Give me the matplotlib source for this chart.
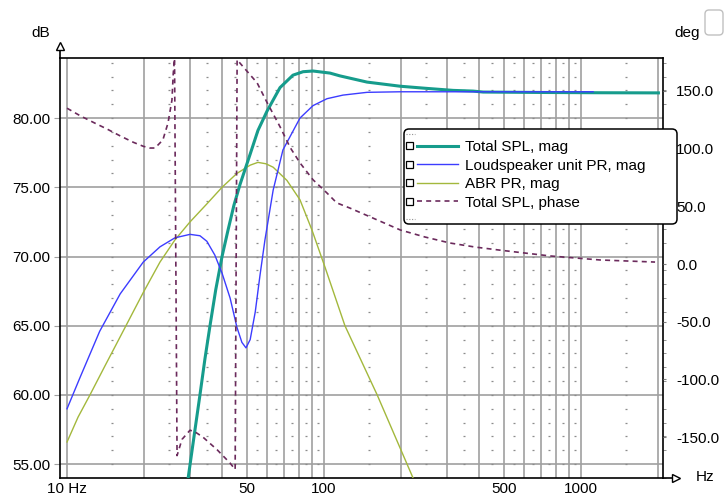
import numpy as np
import matplotlib
matplotlib.use('Agg')
import matplotlib.pyplot as plt
from matplotlib.lines import Line2D
from matplotlib.patches import Rectangle, FancyBboxPatch
from matplotlib.legend_handler import HandlerBase
from matplotlib.ticker import FixedLocator, MultipleLocator, FuncFormatter

plt.rcParams['font.family'] = ['Liberation Sans', 'DejaVu Sans']

# --- data ---
total_f = [28.5, 29.6, 31.2, 32.9, 34.4, 36.0, 37.9, 40.1, 42.3, 44.6, 47.1, 51.6, 55.3,
           60.0, 67.4, 75.7, 82.9, 90.6, 105.5, 115.2, 147, 198, 249, 318, 380, 416,
           700, 1200, 2000]
total_db = [53.0, 54.0, 57.0, 60.0, 62.6, 65.0, 67.6, 70.0, 71.9, 73.7, 75.2, 77.4, 79.1,
            80.5, 82.2, 83.1, 83.35, 83.4, 83.25, 83.05, 82.6, 82.3, 82.15, 82.0, 81.95,
            81.88, 81.85, 81.83, 81.82]

unit_f = [10, 11.2, 13.4, 16.1, 19.8, 23.0, 26.3, 30.1, 32.9, 35.0, 37.6, 40.1, 43.1, 45.8,
          47.9, 49.7, 51.6, 54.0, 56.3, 58.9, 63.4, 69.2, 80.6, 90.6, 102.7, 118.5, 147,
          198, 1114]
unit_db = [59.0, 61.2, 64.6, 67.3, 69.6, 70.7, 71.35, 71.6, 71.5, 71.1, 70.1, 68.8, 67.0,
           64.9, 63.8, 63.4, 64.0, 66.0, 68.6, 71.2, 74.8, 77.7, 80.0, 80.9, 81.4, 81.66,
           81.86, 81.9, 81.9]

abr_f = [10, 11.04, 12.28, 14.05, 16.1, 19.8, 23.0, 26.3, 30.1, 35.0, 40.1, 45.8, 51.6,
         55.3, 59.4, 63.4, 71.7, 80.6, 89.8, 101, 120.6, 161, 222, 247]
abr_db = [56.6, 58.4, 60.0, 62.1, 64.2, 67.4, 69.6, 71.2, 72.5, 73.8, 75.0, 76.0, 76.6,
          76.8, 76.7, 76.45, 75.5, 74.1, 71.9, 69.2, 65.0, 60.0, 54.0, 52.0]

phase_f = [10, 11.24, 12.85, 14.3, 16.1, 18.1, 19.8, 21.0, 22.0, 23.6, 24.7, 25.6, 25.9,
           26.2, 26.8, 28.0, 30.1, 31.5, 33.8, 38.4, 43.1, 45.1, 45.9, 46.3, 48.4, 54.9,
           60, 67.4, 73.8, 80.7, 90.6, 102.7, 112, 126, 158, 198, 247, 309, 387, 484,
           757, 1186, 1941]
phase_deg = [135, 128.5, 122, 117, 111, 105.5, 102, 100.5, 100.5, 107.5, 122, 142, 165,
             178, -166, -152, -144, -145.5, -150, -161, -172.5, -178, 177, 176, 171, 157,
             140, 119, 101, 87.5, 73, 61.5, 53, 48.5, 39, 29.5, 23.4, 18.2, 14.7, 12,
             7, 3.5, 1.7]

labels = ['Total SPL, mag', 'Loudspeaker unit PR, mag', 'ABR PR, mag', 'Total SPL, phase']
x_labels = {10: '10 Hz', 50: '50', 100: '100', 500: '500', 1000: '1000'}

fig = plt.figure(figsize=(7.25, 4.97), dpi=100)
ax = fig.add_axes([60 / 725, 1 - 478 / 497, 603 / 725, 420 / 497])
ax2 = ax.twinx()

ax.set_xscale('log')
ax.set_xlim(9.39, 2084)
ax.set_ylim(54.0, 84.34)
ax2.set_ylim(-185.4, 178.5)

# grid: solid lines at 1-2-3.. decades, dots at the half steps
grid_x = [k * 10 ** d for d in (1, 2) for k in range(2, 10)] + [1000, 2000]
ax.xaxis.set_major_locator(FixedLocator(list(x_labels)))
ax.xaxis.set_major_formatter(FuncFormatter(lambda v, p: x_labels.get(int(round(v)), '')))
ax.xaxis.set_minor_locator(FixedLocator(grid_x))
ax.xaxis.set_minor_formatter(FuncFormatter(lambda v, p: ''))
ax.grid(True, which='both', axis='x', color='#a0a0a0', lw=1.2)
ax.grid(True, which='major', axis='y', color='#a0a0a0', lw=1.2)
ax.set_axisbelow(True)

dot_x = [k * 5 * 10 ** d for d in (0, 1, 2) for k in range(3, 20, 2)]
dot_x = [v for v in dot_x if 9.5 < v < 2000]
dot_y = np.arange(55, 85)
DX, DY = np.meshgrid(dot_x, dot_y)
ax.plot(DX.ravel(), DY.ravel(), ls='none', marker='_', ms=1.6, mew=0.9, color='#8c8c8c', zorder=1)

ax.yaxis.set_major_locator(MultipleLocator(5))
ax.yaxis.set_major_formatter(FuncFormatter(lambda v, p: '%.2f' % v))
ax.yaxis.set_minor_locator(MultipleLocator(1))
ax.tick_params(axis='x', which='both', length=0, pad=3, labelsize=11)
ax.tick_params(axis='y', which='major', length=4, color='#a0a0a0', pad=3, labelsize=11)
ax.tick_params(axis='y', which='minor', left=False, right=True, length=2.5, color='#808080')

ax2.yaxis.set_major_locator(MultipleLocator(50))
ax2.yaxis.set_major_formatter(FuncFormatter(lambda v, p: '%.1f' % v))
ax2.tick_params(axis='y', length=2.5, pad=7, labelsize=11, color='#808080')
for s in ax2.spines.values():
    s.set_visible(False)
for s in ax.spines.values():
    s.set_color('black')
    s.set_linewidth(1.2)

# curves
l1, = ax.plot(total_f, total_db, color='#169c8c', lw=2.2, zorder=4)
l2, = ax.plot(unit_f, unit_db, color='#3c3cff', lw=1.0, zorder=5)
l3, = ax.plot(abr_f, abr_db, color='#a3b83c', lw=1.0, zorder=3)
l4, = ax2.plot(phase_f, phase_deg, color='#6b2a5c', lw=1.2, ls=(0, (3, 2.5)))

# axis arrows
ax.plot([0, 0], [1, 1.02], transform=ax.transAxes, color='black', lw=1.2, clip_on=False)
ax.plot([0], [1.028], transform=ax.transAxes, marker='^', ms=6, mfc='white', mec='black',
        mew=1, clip_on=False)
ax.plot([1, 1.015], [0, 0], transform=ax.transAxes, color='black', lw=1.2, clip_on=False)
ax.plot([1.022], [0], transform=ax.transAxes, marker='>', ms=6, mfc='white', mec='black',
        mew=1, clip_on=False)

fig.text(41 / 725, 1 - 33 / 497, 'dB', ha='center', va='center', fontsize=11)
fig.text(687 / 725, 1 - 33 / 497, 'deg', ha='center', va='center', fontsize=11)
fig.text(705 / 725, 1 - 477 / 497, 'Hz', ha='center', va='center', fontsize=11)

# small box in the top right corner
fig.add_artist(FancyBboxPatch((7.05, 4.62), 0.18, 0.25, boxstyle='round,pad=0,rounding_size=0.04',
                              transform=fig.dpi_scale_trans, fc='white', ec='#c0c0c0', lw=1))


class BoxLine(HandlerBase):
    def create_artists(self, legend, orig_handle, xdescent, ydescent, width, height, fontsize, trans):
        y = height / 2 - ydescent
        x0 = -xdescent
        sq = Rectangle((x0, y - 2.6), 5.2, 5.2, fill=False, ec='black', lw=0.9, transform=trans)
        ln = Line2D([x0 + 8, x0 + width], [y, y])
        self.update_prop(ln, orig_handle, legend)
        ln.set_transform(trans)
        return [sq, ln]


# legend frame
fig.add_artist(FancyBboxPatch((4.04, 2.73), 2.73, 0.95, boxstyle='round,pad=0,rounding_size=0.05',
                              transform=fig.dpi_scale_trans, fc='white', ec='black', lw=1.1,
                              zorder=4))
for yy in (3.63, 2.78):
    fig.add_artist(Line2D([4.06, 4.15], [yy, yy], transform=fig.dpi_scale_trans, color='#909090',
                          lw=0.8, ls=(0, (1, 1.5)), zorder=4.5))

fig.legend([l1, l2, l3, l4], labels, loc='upper left', bbox_to_anchor=(406 / 725, 1 - 140 / 497),
           frameon=False, borderpad=0, borderaxespad=0, fontsize=11, handlelength=3.4,
           handletextpad=0.45, labelspacing=0.3, handler_map={Line2D: BoxLine()})

fig.savefig('out.png', dpi=100)
